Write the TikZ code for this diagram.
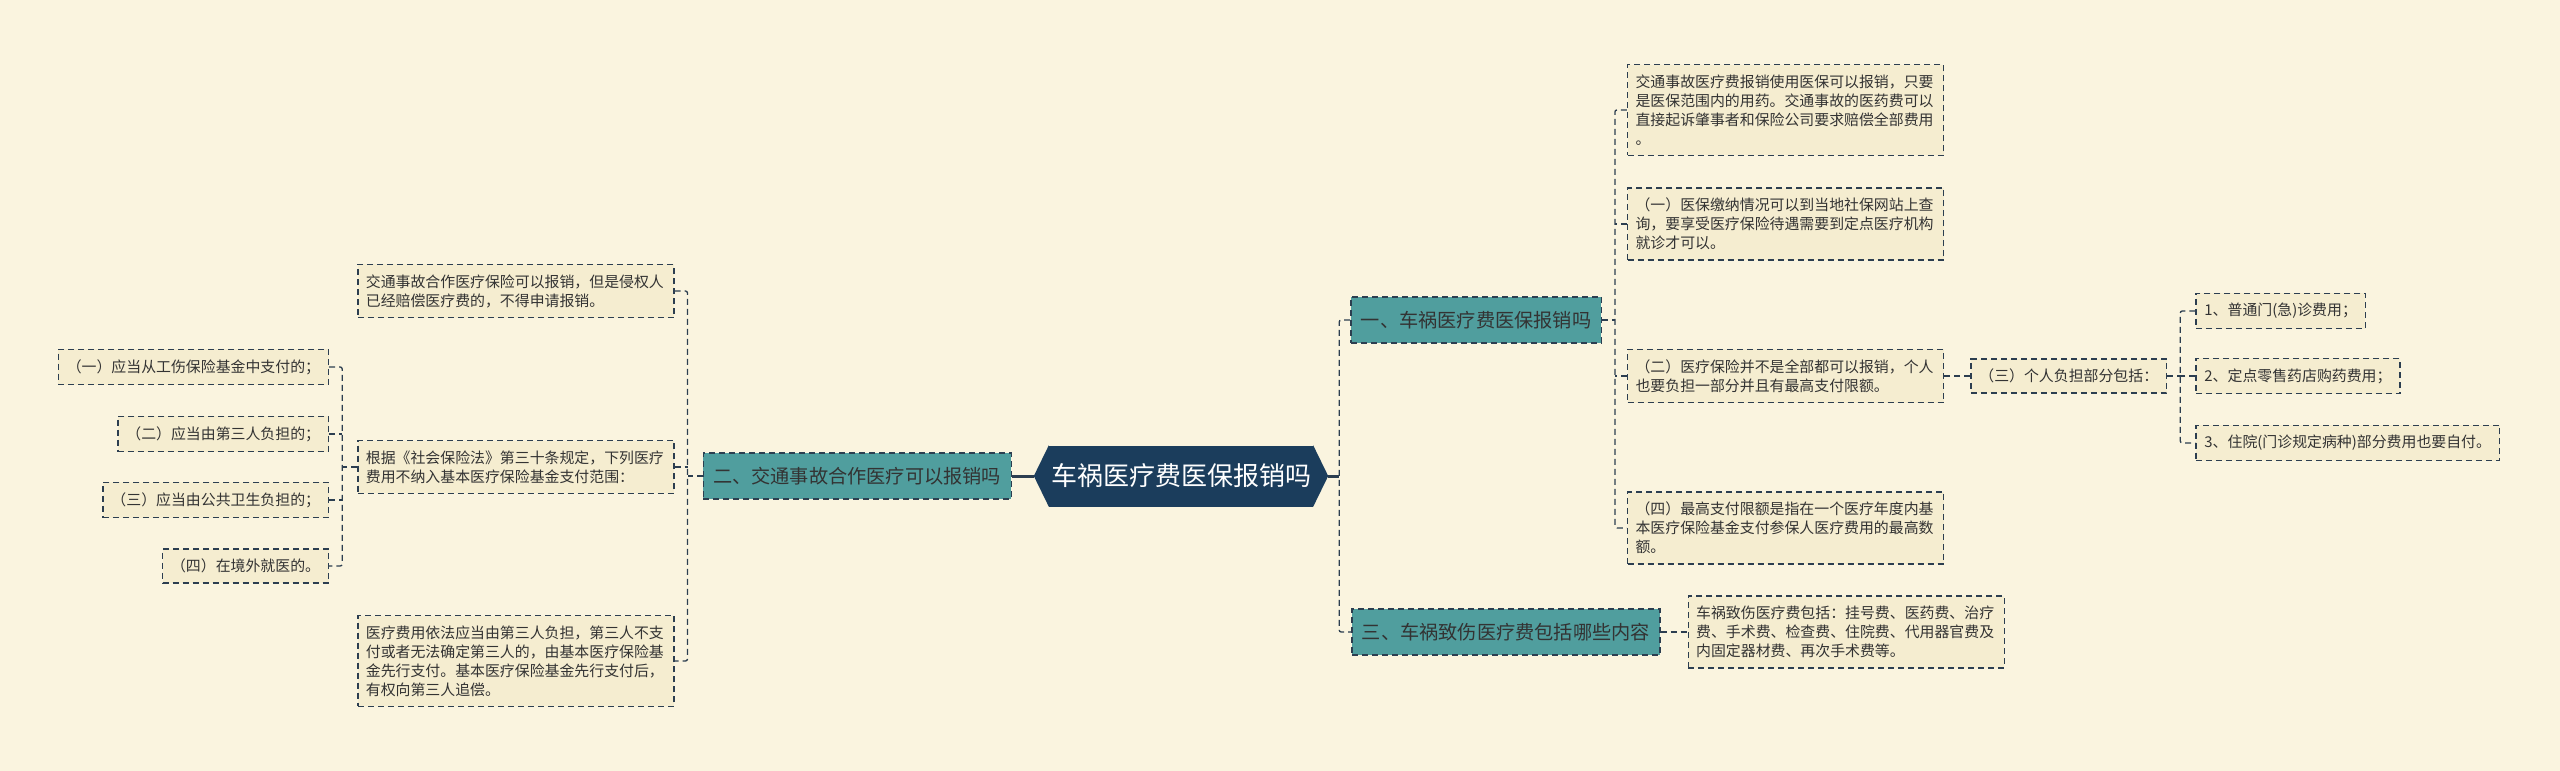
\documentclass[tikz,border=0pt]{standalone}
\usepackage{fontspec}
\setmainfont{Noto Sans CJK SC}
\usetikzlibrary{positioning}

\definecolor{bgcol}{HTML}{FAF4DF}
\definecolor{rootblue}{HTML}{1B3D5C}
\definecolor{tealcol}{HTML}{509E9E}
\definecolor{notecol}{HTML}{F5EDD0}
\definecolor{linecol}{HTML}{2C3E50}
\definecolor{inkcol}{HTML}{333333}

\begin{document}
\begin{tikzpicture}[x=1pt, y=1pt,
  rootbox/.style={fill=rootblue, text=white, minimum width=257pt, minimum height=61pt, inner xsep=2pt, font=\fontsize{26}{30}\selectfont},
  topic/.style={draw=linecol, line width=1.3pt, dash pattern=on 6pt off 4pt, fill=tealcol, text=inkcol, minimum height=46pt, inner xsep=10pt, font=\fontsize{19.2}{23}\selectfont},
  tag/.style={draw=linecol, line width=1.3pt, dash pattern=on 6pt off 4pt, fill=notecol, text=inkcol, inner xsep=8.5pt, inner ysep=10pt, font=\fontsize{14.9}{19}\selectfont},
  note/.style={tag, text width=300pt, align=left, inner xsep=8pt},
  link/.style={draw=linecol, line width=1.3pt, dash pattern=on 6pt off 4pt, rounded corners=2pt},
  trunk/.style={draw=linecol, line width=3pt}
]
\path[use as bounding box, fill=bgcol] (0,0) rectangle (2560,-771);

\node[rootbox] (root) at (1181,-476) {车祸医疗费医保报销吗};
\coordinate (rootL) at ([xshift=-15pt]root.west);
\coordinate (rootR) at ([xshift=15pt]root.east);
\fill[rootblue] (root.north west) -- (rootL) -- (root.south west) -- cycle;
\fill[rootblue] (root.north east) -- (rootR) -- (root.south east) -- cycle;

\node[topic, left=22pt of rootL] (br2) {二、交通事故合作医疗可以报销吗};
\node[topic, right=22pt of rootR, yshift=156pt] (br1) {一、车祸医疗费医保报销吗};
\node[topic, right=23pt of rootR, yshift=-156pt] (br3) {三、车祸致伤医疗费包括哪些内容};

\draw[trunk] (rootL) -- (br2.east);
\draw[trunk] (rootR) -- ++(11,0) coordinate (hub);
\draw[link] (br1.west) -| (hub) |- (br3.west);

\node[note, right=25pt of br1, yshift=210pt] (a1) {交通事故医疗费报销使用医保可以报销，只要\\是医保范围内的用药。交通事故的医药费可以\\直接起诉肇事者和保险公司要求赔偿全部费用\\。};
\node[note, right=25pt of br1, yshift=96pt] (a2) {（一）医保缴纳情况可以到当地社保网站上查\\询，要享受医疗保险待遇需要到定点医疗机构\\就诊才可以。};
\node[note, right=25pt of br1, yshift=-56pt] (a3) {（二）医疗保险并不是全部都可以报销，个人\\也要负担一部分并且有最高支付限额。};
\node[note, right=25pt of br1, yshift=-208pt] (a4) {（四）最高支付限额是指在一个医疗年度内基\\本医疗保险基金支付参保人医疗费用的最高数\\额。};
\draw[link] (br1.east) -- ++(13,0) coordinate (j1);
\draw[link] (a1.west) -| (j1) |- (a4.west);
\draw[link] (a2.west) -- (a2.west -| j1);
\draw[link] (a3.west) -- (a3.west -| j1);

\node[tag, right=26pt of a3] (sub3) {（三）个人负担部分包括：};
\draw[link] (a3.east) -- (sub3.west);

\node[tag, right=28pt of sub3, yshift=65pt] (b1) {1、普通门(急)诊费用；};
\node[tag, right=28pt of sub3] (b2) {2、定点零售药店购药费用；};
\node[tag, right=28pt of sub3, yshift=-67pt] (b3) {3、住院(门诊规定病种)部分费用也要自付。};
\draw[link] (sub3.east) -- ++(13,0) coordinate (j4);
\draw[link] (b1.west) -| (j4) |- (b3.west);
\draw[link] (b2.west) -- (b2.west -| j4);

\node[note, right=27pt of br3] (c1) {车祸致伤医疗费包括：挂号费、医药费、治疗\\费、手术费、检查费、住院费、代用器官费及\\内固定器材费、再次手术费等。};
\draw[link] (br3.east) -- (c1.west);

\node[note, left=28pt of br2, yshift=185pt] (d1) {交通事故合作医疗保险可以报销，但是侵权人\\已经赔偿医疗费的，不得申请报销。};
\node[note, left=28pt of br2, yshift=9pt] (d2) {根据《社会保险法》第三十条规定，下列医疗\\费用不纳入基本医疗保险基金支付范围：};
\node[note, left=28pt of br2, yshift=-185pt] (d3) {医疗费用依法应当由第三人负担，第三人不支\\付或者无法确定第三人的，由基本医疗保险基\\金先行支付。基本医疗保险基金先行支付后，\\有权向第三人追偿。};
\draw[link] (br2.west) -- ++(-15,0) coordinate (j2);
\draw[link] (d1.east) -| (j2) |- (d3.east);
\draw[link] (d2.east) -- (d2.east -| j2);

\node[tag, left=28pt of d2, yshift=100pt] (e1) {（一）应当从工伤保险基金中支付的；};
\node[tag, left=28pt of d2, yshift=33pt] (e2) {（二）应当由第三人负担的；};
\node[tag, left=28pt of d2, yshift=-33pt] (e3) {（三）应当由公共卫生负担的；};
\node[tag, left=28pt of d2, yshift=-99pt] (e4) {（四）在境外就医的。};
\draw[link] (d2.west) -- ++(-15,0) coordinate (j3);
\draw[link] (e1.east) -| (j3) |- (e4.east);
\draw[link] (e2.east) -- (e2.east -| j3);
\draw[link] (e3.east) -- (e3.east -| j3);
\end{tikzpicture}
\end{document}
